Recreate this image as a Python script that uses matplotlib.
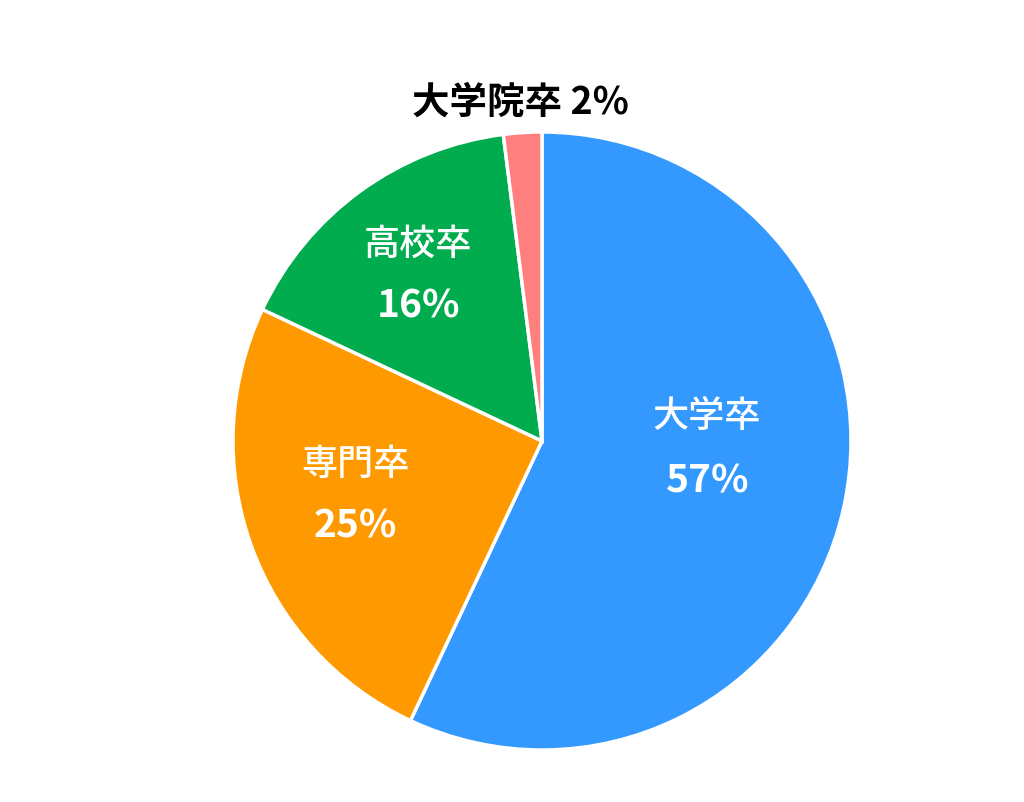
import matplotlib.pyplot as plt

plt.rcParams['font.family'] = ['Noto Sans CJK JP', 'DejaVu Sans']

# data
labels = ['大学卒', '専門卒', '高校卒', '大学院卒']
shares = [57, 25, 16, 2]
colors = ['#3399FF', '#FF9900', '#00AC4E', '#FF7F7F']

fig = plt.figure(figsize=(10.24, 8.03), dpi=100)
ax = fig.add_axes([0, 0, 1, 1])

# pie centred in pixel coords (y measured from bottom)
cx, cy, r = 542, 803 - 442, 309
ax.pie(shares, colors=colors, startangle=90, counterclock=False,
       center=(cx, cy), radius=r, frame=True,
       wedgeprops=dict(edgecolor='white', linewidth=2.5))
ax.set_xlim(0, 1024)
ax.set_ylim(0, 803)
ax.set_aspect('equal')
ax.axis('off')

# inside labels: (name pos, pct pos) in pixels from top-left
inner = {0: ((707, 417), (708, 481)),
         1: ((355, 465), (355, 526)),
         2: ((418, 245), (418, 306))}
for i, ((nx, ny), (px, py)) in inner.items():
    ax.text(nx, 803 - ny, labels[i], color='white', fontsize=26,
            fontweight='medium', ha='center', va='center')
    ax.text(px, 803 - py, f'{shares[i]}%', color='white', fontsize=28,
            fontweight='bold', ha='center', va='center')

# outside label for the small slice
ax.text(520, 803 - 102, f'{labels[3]} {shares[3]}%', color='black',
        fontsize=27, fontweight='bold', ha='center', va='center')

fig.savefig('out.png', dpi=100, facecolor='white')
